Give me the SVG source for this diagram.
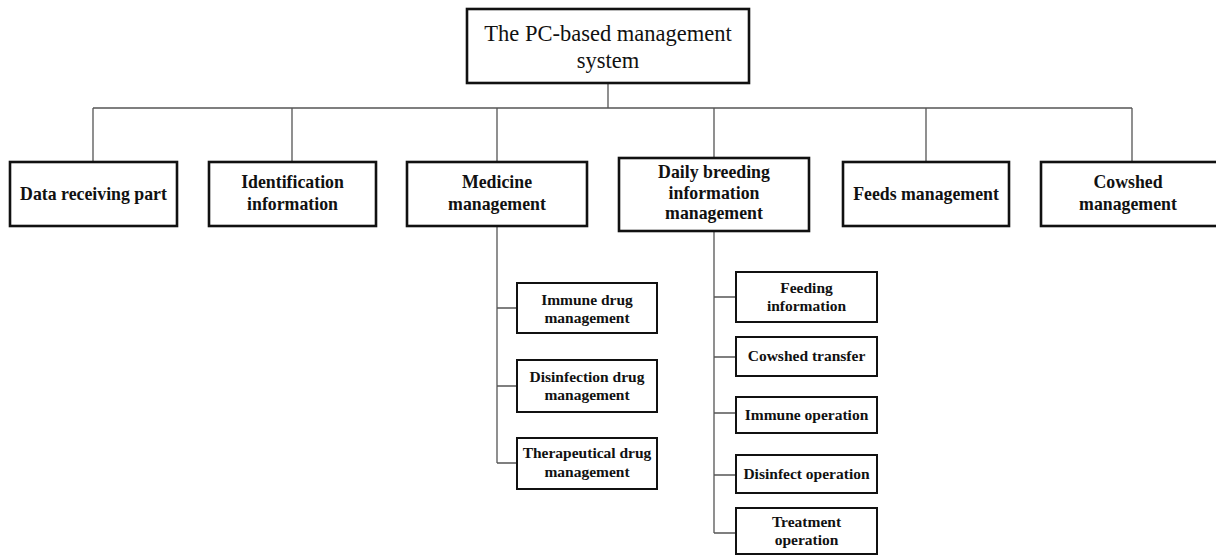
<svg xmlns="http://www.w3.org/2000/svg" width="1216" height="555" viewBox="0 0 1216 555">
<style>
.box{fill:#fff;stroke:#111;stroke-width:2.6}
.sub{fill:#fff;stroke:#111;stroke-width:2}
.ln{fill:none;stroke:#555;stroke-width:1.3}
.t1{font-family:"Liberation Serif","Times New Roman",serif;font-weight:bold;font-size:17.8px;fill:#111;text-anchor:middle}
.t2{font-family:"Liberation Serif","Times New Roman",serif;font-weight:bold;font-size:15.5px;fill:#111;text-anchor:middle}
.t0{font-family:"Liberation Serif","Times New Roman",serif;font-size:22.5px;fill:#111;text-anchor:middle}
</style>
<rect width="1216" height="555" fill="#fff"/>
<g id="connectors">
<path class="ln" d="M608,83 V108 M93,108 H1132 M93,108 V162 M292,108 V162 M497,108 V162 M714,108 V158 M926,108 V162 M1132,108 V162"/>
<path class="ln" d="M497,226 V463 M497,308 H517 M497,386 H517 M497,463 H517"/>
<path class="ln" d="M714,231 V533 M714,297 H736 M714,357 H736 M714,413 H736 M714,475 H736 M714,533 H736"/>
</g>
<g id="root"><rect class="box" x="467" y="9" width="282" height="74"/><text class="t0" x="608" y="41">The PC-based management</text><text class="t0" x="608" y="68">system</text></g>
<g id="data"><rect class="box" x="10" y="162" width="167" height="64"/><text class="t1" x="93.5" y="200">Data receiving part</text></g>
<g id="ident"><rect class="box" x="209" y="162" width="167" height="64"/><text class="t1" x="292.5" y="188">Identification</text><text class="t1" x="292.5" y="210">information</text></g>
<g id="medicine"><rect class="box" x="407" y="162" width="180" height="64"/><text class="t1" x="497" y="188">Medicine</text><text class="t1" x="497" y="210">management</text></g>
<g id="daily"><rect class="box" x="619" y="158" width="190" height="73"/><text class="t1" x="714" y="178">Daily breeding</text><text class="t1" x="714" y="199">information</text><text class="t1" x="714" y="219">management</text></g>
<g id="feeds"><rect class="box" x="843" y="162" width="166" height="64"/><text class="t1" x="926" y="200">Feeds management</text></g>
<g id="cowshed"><rect class="box" x="1041" y="162" width="182" height="64"/><text class="t1" x="1128" y="188">Cowshed</text><text class="t1" x="1128" y="210">management</text></g>
<g id="immune-drug"><rect class="sub" x="517" y="283" width="140" height="50"/><text class="t2" x="587" y="305">Immune drug</text><text class="t2" x="587" y="323">management</text></g>
<g id="disinfection-drug"><rect class="sub" x="517" y="360" width="140" height="52"/><text class="t2" x="587" y="382">Disinfection drug</text><text class="t2" x="587" y="400">management</text></g>
<g id="therapeutical-drug"><rect class="sub" x="517" y="438" width="140" height="51"/><text class="t2" x="587" y="458">Therapeutical drug</text><text class="t2" x="587" y="477">management</text></g>
<g id="feeding"><rect class="sub" x="736" y="272" width="141" height="50"/><text class="t2" x="806.5" y="293">Feeding</text><text class="t2" x="806.5" y="311">information</text></g>
<g id="cowshed-transfer"><rect class="sub" x="736" y="337" width="141" height="39"/><text class="t2" x="806.5" y="361">Cowshed transfer</text></g>
<g id="immune-op"><rect class="sub" x="736" y="397" width="141" height="36"/><text class="t2" x="806.5" y="420">Immune operation</text></g>
<g id="disinfect-op"><rect class="sub" x="736" y="455" width="141" height="38"/><text class="t2" x="806.5" y="479">Disinfect operation</text></g>
<g id="treatment-op"><rect class="sub" x="736" y="508" width="141" height="46"/><text class="t2" x="806.5" y="527">Treatment</text><text class="t2" x="806.5" y="545">operation</text></g>
</svg>
